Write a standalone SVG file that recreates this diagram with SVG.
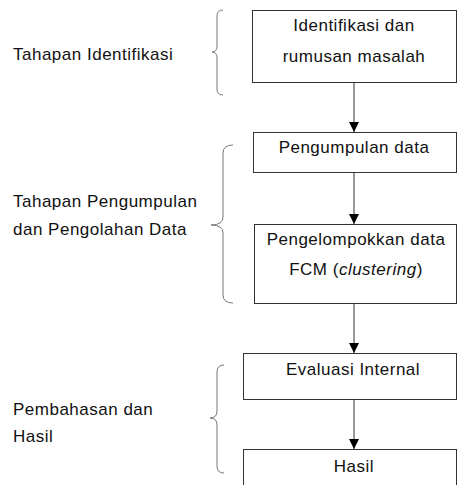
<svg xmlns="http://www.w3.org/2000/svg" width="458" height="485" viewBox="0 0 458 485">
<style>
text{font-family:"Liberation Sans",Arial,sans-serif;font-size:17px;letter-spacing:0.5px;fill:#111}
.c{text-anchor:middle}
.box{fill:#fff;stroke:#333;stroke-width:1}
.brace{fill:none;stroke:#777;stroke-width:1}
.conn{stroke:#555;stroke-width:1.2;fill:none}
</style>
<defs>
<marker id="ah" viewBox="0 0 10 10" refX="10" refY="5" markerWidth="10" markerHeight="10" markerUnits="userSpaceOnUse" orient="auto">
<path d="M0,0 L10,5 L0,10 Z" fill="#000"/>
</marker>
</defs>
<rect width="458" height="485" fill="#fff"/>
<g id="labels">
<g id="label-identifikasi">
<text x="13" y="60">Tahapan Identifikasi</text>
<path class="brace" d="M223,10 Q217,10 217,16 L217,46 Q217,52 212,52 Q217,52 217,58 L217,89 Q217,95 223,95"/>
</g>
<g id="label-pengumpulan">
<text x="13" y="207">Tahapan Pengumpulan</text>
<text x="13" y="235">dan Pengolahan Data</text>
<path class="brace" d="M233,145 Q223,145 223,153 L223,217 Q223,225 211,225 Q223,225 223,233 L223,295 Q223,303 233,303"/>
</g>
<g id="label-pembahasan">
<text x="13" y="415">Pembahasan dan</text>
<text x="13" y="442">Hasil</text>
<path class="brace" d="M224,365 Q217,365 217,372 L217,411 Q217,418 210,418 Q217,418 217,425 L217,466 Q217,473 224,473"/>
</g>
</g>
<g id="connectors">
<line class="conn" x1="354" y1="82" x2="354" y2="132" marker-end="url(#ah)"/>
<line class="conn" x1="354" y1="172" x2="354" y2="224" marker-end="url(#ah)"/>
<line class="conn" x1="354" y1="303" x2="354" y2="353" marker-end="url(#ah)"/>
<line class="conn" x1="354" y1="399" x2="354" y2="449" marker-end="url(#ah)"/>
</g>
<g id="node-identifikasi">
<rect class="box" x="252.5" y="10.5" width="204" height="72"/>
<text class="c" x="354" y="31">Identifikasi dan</text>
<text class="c" x="354" y="62">rumusan masalah</text>
</g>
<g id="node-pengumpulan">
<rect class="box" x="253.5" y="132.5" width="203" height="40"/>
<text class="c" x="354" y="153">Pengumpulan data</text>
</g>
<g id="node-pengelompokkan">
<rect class="box" x="254.5" y="224.5" width="202" height="79"/>
<text class="c" x="356" y="245">Pengelompokkan data</text>
<text class="c" x="356" y="275">FCM (<tspan font-style="italic">clustering</tspan>)</text>
</g>
<g id="node-evaluasi">
<rect class="box" x="243.5" y="353.5" width="213" height="46"/>
<text class="c" x="353" y="375">Evaluasi Internal</text>
</g>
<g id="node-hasil">
<rect class="box" x="243.5" y="449.5" width="213" height="40"/>
<text class="c" x="354" y="472">Hasil</text>
</g>
</svg>
